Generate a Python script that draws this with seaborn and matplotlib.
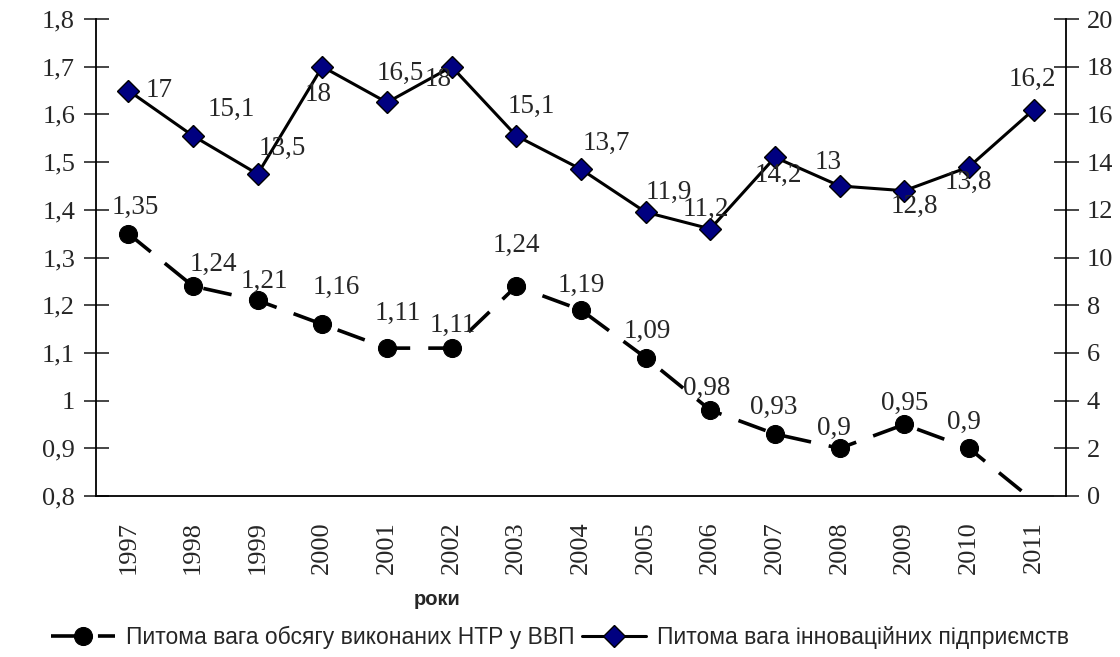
import numpy as np
import pandas as pd
import matplotlib
matplotlib.use("Agg")
import matplotlib.pyplot as plt
import seaborn as sns

# data
years = ["1997", "1998", "1999", "2000", "2001", "2002", "2003", "2004",
         "2005", "2006", "2007", "2008", "2009", "2010", "2011"]
ntr_share = [1.35, 1.24, 1.21, 1.16, 1.11, 1.11, 1.24, 1.19,
             1.09, 0.98, 0.93, 0.90, 0.95, 0.90, 0.79]
innov_share = [17, 15.1, 13.5, 18, 16.5, 18, 15.1, 13.7,
               11.9, 11.2, 14.2, 13, 12.8, 13.8, 16.2]
left_ticks = ["0,8", "0,9", "1", "1,1", "1,2", "1,3", "1,4", "1,5", "1,6", "1,7", "1,8"]
right_ticks = [str(v) for v in range(0, 21, 2)]

label_ntr = "Питома вага обсягу виконаних НТР у ВВП"
label_inn = "Питома вага інноваційних підприємств"

# label offsets (pixels) as placed in the original
ntr_off = [(7, 26), (20, 22), (7, 19), (14, 37), (11, 35), (1, 23), (0, 41), (0, 25),
           (2, 26), (-4, 22), (-1, 27), (-6, 20), (0, 21), (-5, 26), None]
inn_off = [(31, 0), (38, 26), (25, 26), (-4, -28), (13, 29), (-14, -13), (15, 29), (25, 26),
           (23, 20), (-4, 19), (3, -18), (-12, 23), (10, -16), (-1, -16), (-1, 30)]

df = pd.DataFrame({"x": np.arange(len(years)), "ntr": ntr_share, "inn": innov_share})

sns.set_style("white")
plt.rcParams["font.family"] = ["Liberation Serif", "DejaVu Serif"]

fig = plt.figure(figsize=(11.2, 6.57), dpi=100)
ax = fig.add_axes([96 / 1120, 1 - 496 / 657, 970 / 1120, 477 / 657])
ax2 = ax.twinx()

visible = [i for i, v in enumerate(ntr_share) if v >= 0.8]
sns.lineplot(data=df, x="x", y="ntr", ax=ax, color="black", lw=2.6,
             linestyle=(0, (8, 5)), marker="o", markersize=13, markevery=visible,
             markeredgecolor="black", label=label_ntr, legend=False)
sns.lineplot(data=df, x="x", y="inn", ax=ax2, color="black", lw=2.2,
             marker="D", markersize=11, markerfacecolor="#000080",
             markeredgecolor="black", markeredgewidth=1.0, label=label_inn, legend=False)

ax.set_xlim(-0.5, len(years) - 0.5)
ax.set_ylim(0.8, 1.8)
ax2.set_ylim(0, 20)

ax.set_yticks(np.linspace(0.8, 1.8, 11))
ax.set_yticklabels(left_ticks)
ax2.set_yticks(range(0, 21, 2))
ax2.set_yticklabels(right_ticks)

ax.set_xticks(df["x"])
ax.set_xticklabels(years, rotation=90)
ax.set_xticks(np.arange(-0.5, len(years), 1), minor=True)
ax.tick_params(axis="x", which="major", length=0, pad=18, labelsize=19)
ax.tick_params(axis="x", which="minor", length=16, width=1.2, direction="inout")
ax.tick_params(axis="y", length=18, width=1.2, direction="inout", labelsize=19, pad=6, left=True)
ax2.tick_params(axis="y", length=18, width=1.2, direction="inout", labelsize=19, pad=6, right=True)

for a in (ax, ax2):
    a.spines["top"].set_visible(False)
    for s in ("left", "right", "bottom"):
        a.spines[s].set_linewidth(1.3)
        a.spines[s].set_color("black")
ax.spines["right"].set_visible(False)
ax2.spines["left"].set_visible(False)
ax2.spines["bottom"].set_visible(False)
ax.set_ylabel("")
ax2.set_ylabel("")
ax.set_xlabel("роки", fontsize=14.5, fontweight="bold", family=["Liberation Sans"])
ax.xaxis.set_label_coords(0.352, -0.197)

for i, v in enumerate(ntr_share):
    if ntr_off[i] is None:
        continue
    dx, dy = ntr_off[i]
    ax.annotate(f"{v:g}".replace(".", ","), (i, v), xytext=(dx, dy), textcoords="offset pixels",
                ha="center", va="center", fontsize=19.5)
for i, v in enumerate(innov_share):
    dx, dy = inn_off[i]
    ax2.annotate(f"{v:g}".replace(".", ","), (i, v), xytext=(dx, dy), textcoords="offset pixels",
                 ha="center", va="center", fontsize=19.5)

h1, l1 = ax.get_legend_handles_labels()
h2, l2 = ax2.get_legend_handles_labels()
fig.legend(h1 + h2, l1 + l2, loc="center", bbox_to_anchor=(0.5, 1 - 637 / 657), ncol=2,
           frameon=False, handlelength=2.8, columnspacing=0.3, handletextpad=0.5,
           borderpad=0, prop={"family": "Liberation Sans", "size": 16.5})

fig.savefig("out.png", dpi=100)
